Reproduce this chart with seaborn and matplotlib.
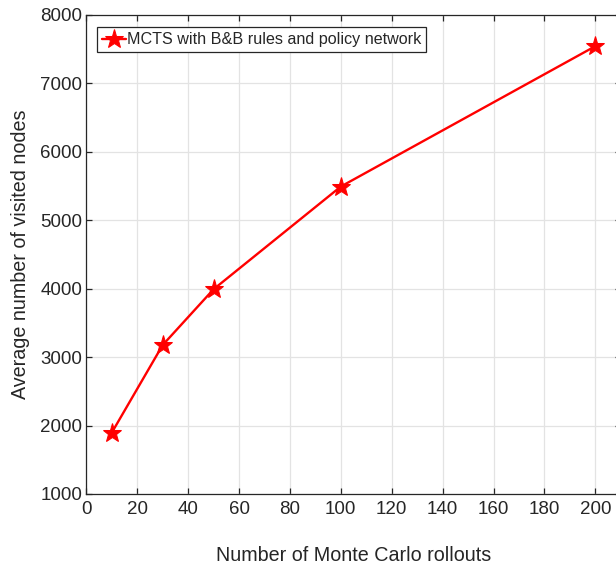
import matplotlib
matplotlib.use("Agg")
import matplotlib.pyplot as plt
import seaborn as sns
import pandas as pd

rollouts = [10, 30, 50, 100, 200]
visited_nodes = [1895, 3175, 3990, 5490, 7540]
series_name = "MCTS with B&B rules and policy network"
x_ticks = [0, 20, 40, 60, 80, 100, 120, 140, 160, 180, 200]
y_ticks = [1000, 2000, 3000, 4000, 5000, 6000, 7000, 8000]

sns.set_style("whitegrid")
plt.rcParams['font.family'] = ['Liberation Sans', 'DejaVu Sans']

df = pd.DataFrame({"x": rollouts, "y": visited_nodes, "s": series_name})

W, H = 616, 567
fig = plt.figure(figsize=(W / 100, H / 100), dpi=100)
left = 86.3 / W
bottom = (H - 494) / H
top = 14.7 / H
px_per_unit = 2.545
width = 210 * px_per_unit / W
ax = fig.add_axes([left, bottom, width, 1 - top - bottom])

sns.lineplot(data=df, x="x", y="y", hue="s", palette=["#ff0000"], marker="*",
             markersize=14, linewidth=1.7, markeredgecolor="#ff0000", ax=ax)

ax.set_xlim(0, 210)
ax.set_ylim(1000, 8000)
ax.set_xticks(x_ticks)
ax.set_yticks(y_ticks)
ax.grid(True, color="#e3e3e3", linewidth=0.9)
for s in ax.spines.values():
    s.set_color("#262626")
    s.set_linewidth(0.9)
ax.tick_params(direction="in", length=4, width=0.9, colors="#262626",
               labelsize=13.5, top=True, right=True, bottom=True, left=True,
               pad=3)
ax.tick_params(axis="x", pad=5)
ax.set_xlabel("Number of Monte Carlo rollouts", fontsize=14.2, color="#262626",
              labelpad=20)
ax.set_ylabel("Average number of visited nodes", fontsize=14.2, color="#262626",
              labelpad=7)

leg = ax.legend(loc="upper left", bbox_to_anchor=((97 - 86.3) / (width * W), 1 - (27.5 - 14.7) / ((1 - top - bottom) * H)),
                frameon=True, fancybox=False, fontsize=11.6, handlelength=1.5,
                borderpad=0.3, handletextpad=0.05, borderaxespad=0)
leg.get_frame().set_edgecolor("#262626")
leg.get_frame().set_linewidth(0.9)
leg.get_frame().set_alpha(1)

fig.savefig("out.png", dpi=100)
